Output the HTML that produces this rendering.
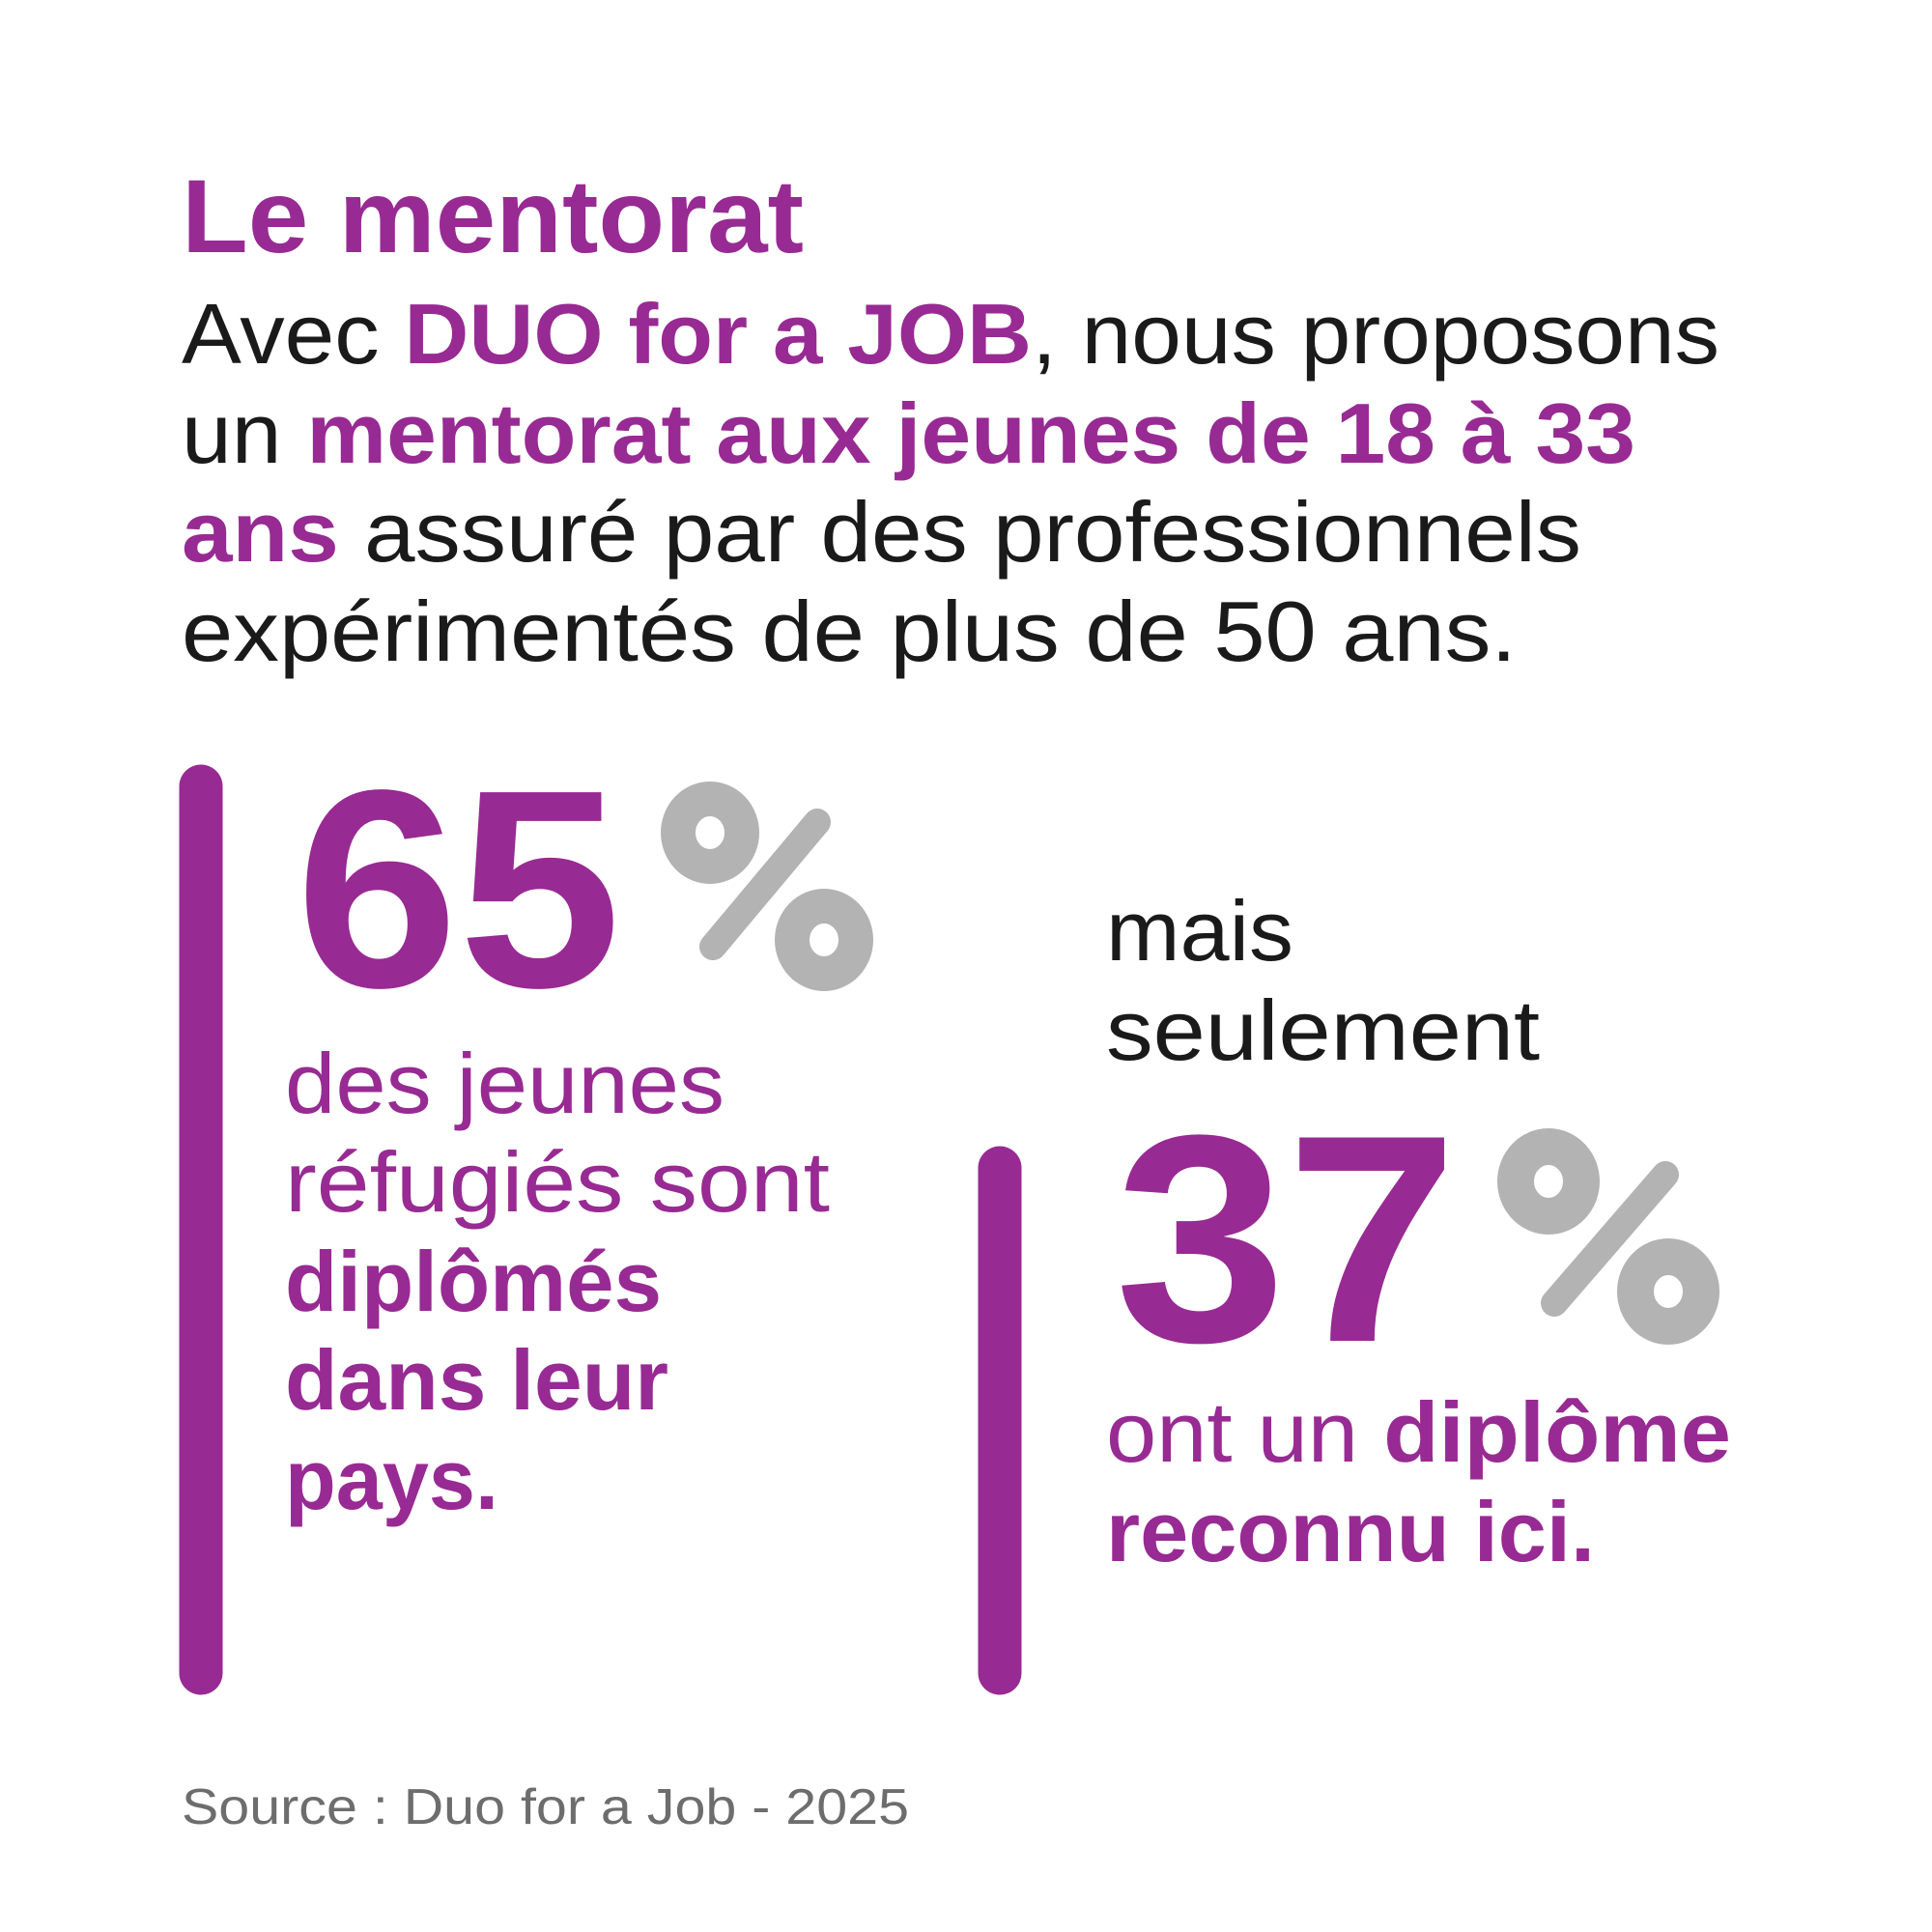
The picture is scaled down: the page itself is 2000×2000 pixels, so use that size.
<!DOCTYPE html>
<html><head><meta charset="utf-8"><style>
html,body{margin:0;padding:0;background:#fff;}
svg{display:block;}
text{font-family:"Liberation Sans",sans-serif;}
.p{fill:#982a93;}
.k{fill:#1a1a1a;}
.b{font-weight:bold;}
</style></head><body>
<svg width="2000" height="2000" viewBox="0 0 2000 2000" xmlns="http://www.w3.org/2000/svg">
<rect width="2000" height="2000" fill="#fff"/>
<g transform="translate(0,-6)">
<line x1="208" y1="820" x2="208" y2="1738" stroke="#982a93" stroke-width="45" stroke-linecap="round"/>
<line x1="1035" y1="1215" x2="1035" y2="1738" stroke="#982a93" stroke-width="45" stroke-linecap="round"/>
<g stroke="#b3b3b3" fill="none">
<ellipse cx="735" cy="868" rx="33" ry="35" stroke-width="36"/>
<line x1="738" y1="986" x2="846" y2="857" stroke-width="28" stroke-linecap="round"/>
<ellipse cx="853" cy="979" rx="33" ry="35" stroke-width="36"/>
<ellipse cx="1603" cy="1229" rx="34" ry="36" stroke-width="38"/>
<line x1="1609" y1="1355" x2="1724" y2="1222" stroke-width="28" stroke-linecap="round"/>
<ellipse cx="1727" cy="1343" rx="34" ry="36" stroke-width="38"/>
</g>
</g>
<g transform="translate(-2,-6)">
<text x="190" y="267" font-size="108" class="p b" textLength="644" lengthAdjust="spacingAndGlyphs">Le mentorat</text>

<g font-size="88">
<text x="190" y="382" class="k" textLength="1592" lengthAdjust="spacingAndGlyphs">Avec <tspan class="p b">DUO for a JOB</tspan>, nous proposons</text>
<text x="190" y="485" class="k" textLength="1505" lengthAdjust="spacingAndGlyphs">un <tspan class="p b">mentorat aux jeunes de 18 à 33</tspan></text>
<text x="190" y="587" class="k" textLength="1449" lengthAdjust="spacingAndGlyphs"><tspan class="p b">ans</tspan> assuré par des professionnels</text>
<text x="190" y="690" class="k" textLength="1382" lengthAdjust="spacingAndGlyphs">expérimentés de plus de 50 ans.</text>
</g>

<text x="308" y="1027" font-size="292" class="p b" textLength="337" lengthAdjust="spacingAndGlyphs">65</text>

<g font-size="88">
<text x="297" y="1158" class="p" textLength="455" lengthAdjust="spacingAndGlyphs">des jeunes</text>
<text x="297" y="1260" class="p" textLength="564" lengthAdjust="spacingAndGlyphs">réfugiés sont</text>
<text x="297" y="1363" class="p b" textLength="390" lengthAdjust="spacingAndGlyphs">diplômés</text>
<text x="297" y="1465" class="p b" textLength="397" lengthAdjust="spacingAndGlyphs">dans leur</text>
<text x="297" y="1568" class="p b" textLength="221" lengthAdjust="spacingAndGlyphs">pays.</text>

<text x="1147" y="1000" class="k" textLength="194" lengthAdjust="spacingAndGlyphs">mais</text>
<text x="1147" y="1103" class="k" textLength="449" lengthAdjust="spacingAndGlyphs">seulement</text>

<text x="1147" y="1519" class="p" textLength="647" lengthAdjust="spacingAndGlyphs">ont un <tspan class="b">diplôme</tspan></text>
<text x="1147" y="1622" class="p b" textLength="506" lengthAdjust="spacingAndGlyphs">reconnu ici.</text>
</g>

<text x="1156" y="1394" font-size="306" class="p b" textLength="355" lengthAdjust="spacingAndGlyphs">37</text>

<text x="190" y="1894" font-size="52" fill="#6d6d6d" textLength="753" lengthAdjust="spacingAndGlyphs">Source : Duo for a Job - 2025</text>
</g>
</svg>
</body></html>
